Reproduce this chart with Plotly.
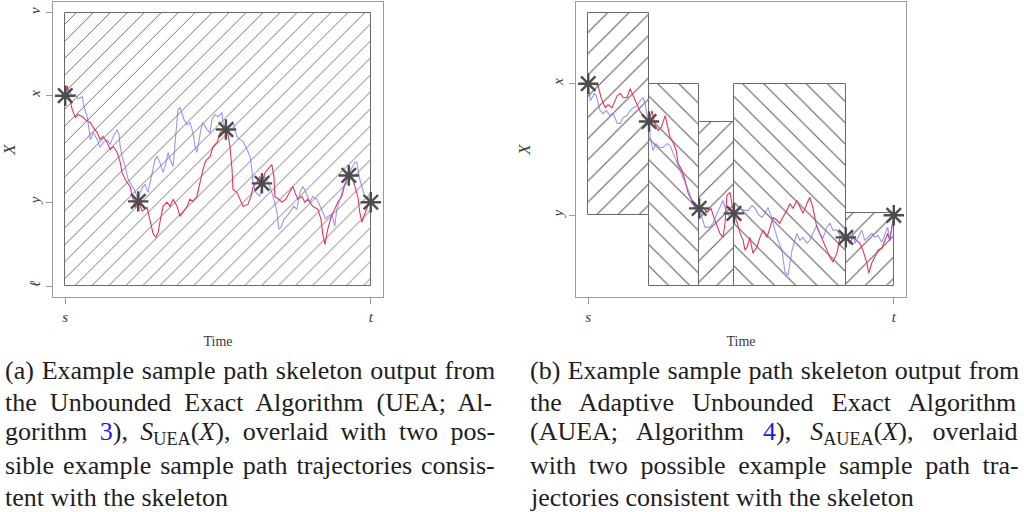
import plotly.graph_objects as go

# ---------------- Panel (a): UEA ----------------
uea_time_red = [0, 0.007, 0.013, 0.023, 0.033, 0.042, 0.056, 0.069, 0.082, 0.092, 0.105, 0.114, 0.124,
                0.137, 0.147, 0.157, 0.170, 0.180, 0.186, 0.196, 0.212, 0.222, 0.229, 0.239, 0.252, 0.268,
                0.275, 0.284, 0.288, 0.297, 0.304, 0.310, 0.320, 0.333, 0.343, 0.353, 0.366, 0.376, 0.386,
                0.399, 0.408, 0.418, 0.431, 0.441, 0.451, 0.458, 0.464, 0.474, 0.484, 0.497, 0.507, 0.513,
                0.526, 0.533, 0.539, 0.546, 0.549, 0.562, 0.572, 0.582, 0.598, 0.608, 0.614, 0.627, 0.637,
                0.644, 0.654, 0.663, 0.670, 0.676, 0.683, 0.686, 0.699, 0.709, 0.722, 0.735, 0.745, 0.752,
                0.761, 0.775, 0.784, 0.794, 0.810, 0.827, 0.837, 0.843, 0.850, 0.859, 0.873, 0.882, 0.892,
                0.905, 0.915, 0.928, 0.938, 0.948, 0.958, 0.964, 0.971, 0.980, 0.990, 1.0]
uea_red = [6.97, 7.34, 6.93, 6.46, 6.17, 6.28, 6.20, 6.06, 5.99, 5.80, 5.62, 5.36, 5.47,
           5.26, 5.00, 5.11, 4.89, 4.53, 4.16, 3.91, 3.65, 3.18, 2.88, 3.10, 2.74, 2.88,
           2.55, 2.19, 1.90, 1.79, 1.97, 2.34, 2.92, 3.07, 2.92, 3.18, 2.92, 2.55, 2.70,
           2.92, 3.18, 3.10, 3.28, 3.80, 4.27, 4.53, 4.64, 4.74, 5.11, 5.26, 5.62, 5.66,
           5.73, 5.55, 5.11, 4.27, 3.54, 3.43, 3.18, 2.92, 2.99, 3.28, 3.61, 3.80, 4.01,
           3.76, 4.16, 4.27, 4.38, 4.45, 4.01, 3.28, 3.18, 3.07, 3.18, 3.43, 3.65, 3.43,
           3.18, 3.28, 3.07, 3.18, 2.92, 2.81, 2.45, 1.90, 1.53, 2.08, 2.63, 2.81, 3.07,
           3.28, 3.72, 4.05, 3.98, 3.65, 3.25, 2.70, 2.34, 2.63, 2.92, 3.07]

uea_time_blue = [0, 0.013, 0.023, 0.033, 0.042, 0.056, 0.062, 0.072, 0.078, 0.082, 0.092, 0.105, 0.114,
                 0.124, 0.137, 0.147, 0.157, 0.170, 0.176, 0.180, 0.186, 0.196, 0.206, 0.219, 0.229, 0.239,
                 0.245, 0.255, 0.261, 0.271, 0.278, 0.284, 0.294, 0.301, 0.310, 0.320, 0.327, 0.337, 0.343,
                 0.353, 0.359, 0.366, 0.369, 0.376, 0.382, 0.389, 0.399, 0.408, 0.418, 0.425, 0.431, 0.438,
                 0.444, 0.451, 0.464, 0.474, 0.480, 0.490, 0.500, 0.513, 0.516, 0.526, 0.539, 0.549, 0.562,
                 0.572, 0.582, 0.595, 0.605, 0.611, 0.614, 0.624, 0.637, 0.644, 0.654, 0.663, 0.673, 0.683,
                 0.693, 0.699, 0.706, 0.716, 0.725, 0.735, 0.748, 0.758, 0.768, 0.778, 0.788, 0.801, 0.810,
                 0.824, 0.833, 0.843, 0.853, 0.859, 0.873, 0.882, 0.889, 0.899, 0.912, 0.928, 0.935, 0.948,
                 0.954, 0.964, 0.971, 0.980, 0.990, 1.0]
uea_blue = [6.97, 7.19, 6.93, 7.01, 6.86, 6.93, 6.53, 6.20, 5.73, 5.36, 5.62, 5.36, 5.07,
            5.26, 5.36, 5.18, 5.47, 5.73, 5.55, 5.11, 4.74, 4.38, 3.91, 3.65, 3.47, 3.10,
            3.43, 3.65, 3.72, 3.43, 3.80, 4.01, 4.64, 4.74, 4.53, 4.16, 4.38, 4.89, 4.64,
            4.38, 5.11, 6.09, 6.46, 6.53, 6.35, 6.09, 5.91, 5.99, 5.62, 5.11, 4.89, 5.36,
            5.73, 5.99, 5.73, 5.62, 6.09, 6.28, 6.20, 6.35, 5.99, 5.73, 5.84, 6.02, 5.47,
            5.36, 5.29, 5.00, 4.74, 4.27, 3.80, 3.43, 3.28, 3.76, 4.01, 3.80, 3.54, 3.18,
            2.70, 2.08, 2.15, 2.45, 2.55, 2.70, 2.92, 2.81, 3.43, 3.65, 3.43, 3.07, 3.28,
            3.18, 2.92, 2.70, 2.45, 2.55, 2.63, 2.19, 2.81, 3.18, 3.65, 4.05, 4.27, 4.53,
            4.53, 3.91, 3.65, 3.28, 3.28, 3.07]

uea_skel_time = [0, 0.239, 0.526, 0.644, 0.928, 1.0]
uea_skel_val = [6.97, 3.10, 5.73, 3.76, 4.05, 3.07]

uea_box_t0 = [0.0]
uea_box_t1 = [1.0]
uea_box_lo = [0.0]
uea_box_hi = [10.0]
uea_box_hatch = ["/"]

uea_ytick_vals = [0.0, 3.07, 6.97, 10.0]
uea_ytick_text = ["ℓ", "y", "x", "v"]

# ---------------- Panel (b): AUEA ----------------
auea_time_red = [0, 0.013, 0.023, 0.033, 0.042, 0.056, 0.065, 0.078, 0.088, 0.095, 0.105, 0.114, 0.127,
                 0.137, 0.147, 0.157, 0.170, 0.183, 0.199, 0.209, 0.219, 0.229, 0.239, 0.252, 0.258, 0.268,
                 0.278, 0.288, 0.294, 0.307, 0.317, 0.327, 0.340, 0.350, 0.363, 0.376, 0.389, 0.402, 0.412,
                 0.422, 0.431, 0.441, 0.448, 0.454, 0.464, 0.471, 0.477, 0.487, 0.497, 0.507, 0.513, 0.520,
                 0.529, 0.539, 0.552, 0.562, 0.572, 0.585, 0.595, 0.605, 0.618, 0.627, 0.637, 0.650, 0.660,
                 0.670, 0.683, 0.693, 0.703, 0.716, 0.725, 0.735, 0.748, 0.758, 0.768, 0.781, 0.791, 0.801,
                 0.814, 0.824, 0.833, 0.843, 0.856, 0.866, 0.879, 0.889, 0.899, 0.912, 0.918, 0.928, 0.938,
                 0.948, 0.961, 0.971, 0.980, 0.987, 1.0]
auea_red = [7.00, 7.00, 7.00, 6.91, 6.58, 6.27, 6.36, 6.27, 6.48, 6.64, 6.70, 6.58, 6.58,
            6.85, 6.64, 6.42, 6.15, 6.00, 5.85, 6.18, 5.73, 5.58, 5.67, 6.03, 5.79, 5.36,
            5.21, 4.97, 4.58, 4.36, 4.06, 3.67, 3.45, 3.24, 3.21, 3.24, 3.09, 3.21, 2.91,
            2.64, 2.45, 2.33, 2.79, 3.61, 3.70, 3.30, 3.06, 2.79, 2.45, 2.24, 1.94, 2.03,
            2.33, 1.85, 2.03, 2.33, 2.55, 2.33, 2.64, 2.94, 2.85, 2.76, 2.94, 3.15, 3.36,
            3.21, 3.45, 3.24, 3.06, 3.36, 3.55, 3.24, 2.64, 2.45, 2.24, 1.94, 1.73, 1.58,
            1.85, 2.33, 2.45, 2.33, 2.15, 2.33, 2.24, 2.15, 1.94, 1.55, 1.24, 1.55, 1.73,
            1.94, 2.00, 2.24, 2.45, 2.24, 3.00]

auea_time_blue = [0, 0.007, 0.013, 0.020, 0.026, 0.033, 0.039, 0.049, 0.059, 0.072, 0.082, 0.095, 0.105,
                  0.114, 0.127, 0.137, 0.147, 0.160, 0.170, 0.180, 0.186, 0.193, 0.199, 0.203, 0.212, 0.222,
                  0.235, 0.245, 0.258, 0.268, 0.278, 0.288, 0.301, 0.314, 0.324, 0.333, 0.343, 0.353, 0.363,
                  0.373, 0.382, 0.399, 0.408, 0.422, 0.431, 0.441, 0.454, 0.464, 0.477, 0.487, 0.497, 0.510,
                  0.523, 0.536, 0.546, 0.559, 0.569, 0.578, 0.588, 0.598, 0.611, 0.621, 0.634, 0.644, 0.654,
                  0.660, 0.667, 0.676, 0.683, 0.693, 0.703, 0.716, 0.725, 0.735, 0.748, 0.758, 0.768, 0.781,
                  0.791, 0.801, 0.814, 0.824, 0.833, 0.843, 0.853, 0.863, 0.873, 0.882, 0.895, 0.905, 0.915,
                  0.928, 0.938, 0.948, 0.961, 0.971, 0.980, 0.987, 1.0]
auea_blue = [7.00, 6.48, 6.58, 6.70, 6.64, 6.39, 6.18, 6.09, 6.18, 6.03, 6.09, 5.79, 5.79,
             5.97, 6.03, 6.18, 6.27, 6.33, 6.48, 6.58, 6.39, 6.03, 5.85, 5.36, 4.97, 5.18,
             5.06, 5.06, 5.18, 5.12, 4.88, 4.67, 4.36, 4.06, 3.85, 3.61, 3.36, 3.15, 3.21,
             2.91, 2.64, 2.64, 2.76, 3.06, 3.24, 3.45, 3.06, 2.94, 3.06, 3.09, 3.21, 3.15,
             3.15, 3.30, 3.21, 3.00, 2.94, 3.06, 3.24, 3.00, 2.55, 2.24, 1.94, 1.27, 1.18,
             1.58, 1.94, 2.24, 2.45, 2.24, 2.33, 2.15, 2.24, 2.45, 2.70, 2.45, 2.30, 2.64,
             2.76, 2.55, 2.55, 2.39, 2.24, 2.33, 2.45, 2.55, 2.15, 2.33, 2.55, 2.24, 2.33,
             2.45, 2.33, 2.39, 2.18, 2.45, 2.64, 2.24, 3.00]

auea_skel_time = [0, 0.199, 0.363, 0.477, 0.843, 1.0]
auea_skel_val = [7.00, 5.85, 3.21, 3.06, 2.33, 3.00]

auea_box_t0 = [0.0, 0.199, 0.363, 0.477, 0.843]
auea_box_t1 = [0.199, 0.363, 0.477, 0.843, 1.0]
auea_box_lo = [3.00, 0.85, 0.85, 0.85, 0.85]
auea_box_hi = [9.15, 7.00, 5.85, 7.00, 3.06]
auea_box_hatch = ["/", "\\", "/", "\\", "/"]

auea_ytick_vals = [3.00, 7.00]
auea_ytick_text = ["y", "x"]

time_tick_vals = [0.0, 1.0]
time_tick_text = ["s", "t"]

caption_a = [
    "(a) Example sample path skeleton output from",
    "the Unbounded Exact Algorithm (UEA; Al-",
    "gorithm <span style='color:#1a1aff'>3</span>), <i>S</i><sub>UEA</sub>(<i>X</i>), overlaid with two pos-",
    "sible example sample path trajectories consis-",
    "tent with the skeleton",
]
caption_b = [
    "(b) Example sample path skeleton output from",
    "the Adaptive Unbounded Exact Algorithm",
    "(AUEA; Algorithm <span style='color:#1a1aff'>4</span>), <i>S</i><sub>AUEA</sub>(<i>X</i>), overlaid",
    "with two possible example sample path tra-",
    "jectories consistent with the skeleton",
]
# extra inter-word space (px) that justifies each caption line
caption_a_wordspace = [1.3, 6.6, 5.9, 2.5, 0.0]
caption_b_wordspace = [0.9, 11.8, 12.5, 6.1, 0.0]

# ---------------- styling ----------------
SERIF = "Liberation Serif"
RED = "rgb(232,52,88)"
BLUE = "rgba(110,110,255,0.72)"
STAR = "#4d4d4d"
FRAME = "#9a9a9a"
HATCH = "#5a5a5a"
AXTXT = "#3a3a3a"

fig = go.Figure()


def add_panel(xa, ya, t0, t1, lo, hi, hatch, hsize, tr, r, tb, b, st, sv):
    fig.add_trace(go.Bar(
        x=[(a + c) / 2 for a, c in zip(t0, t1)],
        width=[c - a for a, c in zip(t0, t1)],
        base=lo,
        y=[h - l for h, l in zip(hi, lo)],
        xaxis=xa, yaxis=ya,
        marker=dict(color="white",
                    line=dict(color="#6a6a6a", width=1),
                    pattern=dict(shape=hatch, fgcolor=HATCH, bgcolor="white",
                                 size=hsize, solidity=0.07, fillmode="replace")),
        showlegend=False, hoverinfo="skip"))
    fig.add_trace(go.Scatter(x=tr, y=r, xaxis=xa, yaxis=ya, mode="lines",
                             line=dict(color=RED, width=1.1), showlegend=False))
    fig.add_trace(go.Scatter(x=tb, y=b, xaxis=xa, yaxis=ya, mode="lines",
                             line=dict(color=BLUE, width=1.1), showlegend=False))
    fig.add_trace(go.Scatter(x=st, y=sv, xaxis=xa, yaxis=ya, mode="markers",
                             marker=dict(symbol="asterisk-open", size=17, color=STAR,
                                         line=dict(color=STAR, width=2.4)),
                             showlegend=False))


add_panel("x", "y", uea_box_t0, uea_box_t1, uea_box_lo, uea_box_hi, uea_box_hatch, 12,
          uea_time_red, uea_red, uea_time_blue, uea_blue, uea_skel_time, uea_skel_val)
add_panel("x2", "y2", auea_box_t0, auea_box_t1, auea_box_lo, auea_box_hi, auea_box_hatch, 15,
          auea_time_red, auea_red, auea_time_blue, auea_blue, auea_skel_time, auea_skel_val)

ydom = [1 - 297 / 512, 1 - 2 / 512]

common_x = dict(range=[-0.04, 1.04], showline=True, mirror=True, linecolor=FRAME, linewidth=1.2,
                ticks="outside", ticklen=6, tickcolor=FRAME, tickwidth=1, showgrid=False, zeroline=False,
                automargin=False,
                tickvals=time_tick_vals, ticktext=["<i>%s</i>" % s for s in time_tick_text],
                tickfont=dict(family=SERIF, size=15, color=AXTXT),
                title=dict(text="Time", font=dict(family=SERIF, size=14, color=AXTXT), standoff=12))
common_y = dict(showline=True, mirror=True, linecolor=FRAME, linewidth=1.2,
                ticks="outside", ticklen=6, tickcolor=FRAME, tickwidth=1, showgrid=False, zeroline=False,
                automargin=False,
                tickangle=-90, tickfont=dict(family=SERIF, size=15, color=AXTXT),
                title=dict(text="<i>X</i>", font=dict(family=SERIF, size=17, color=AXTXT), standoff=14))

fig.update_layout(
    width=1024, height=512, margin=dict(l=0, r=0, t=0, b=0, autoexpand=False), autosize=False,
    paper_bgcolor="white", plot_bgcolor="white", barmode="overlay", bargap=0,
    xaxis=dict(domain=[53 / 1024, 383 / 1024], anchor="y", **common_x),
    yaxis=dict(domain=ydom, anchor="x", range=[-0.4, 10.4],
               tickvals=uea_ytick_vals, ticktext=["<i>%s</i>" % s for s in uea_ytick_text], **common_y),
    xaxis2=dict(domain=[576 / 1024, 906 / 1024], anchor="y2", **common_x),
    yaxis2=dict(domain=ydom, anchor="x2", range=[0.518, 9.482],
                tickvals=auea_ytick_vals, ticktext=["<i>%s</i>" % s for s in auea_ytick_text], **common_y),
)

line_y = [370, 402, 433, 465, 497]
for caps, spaces, x0 in ((caption_a, caption_a_wordspace, 3), (caption_b, caption_b_wordspace, 528)):
    for i, txt in enumerate(caps):
        fig.add_annotation(xref="paper", yref="paper", x=x0 / 1024, y=1 - line_y[i] / 512,
                           xanchor="left", yanchor="middle", showarrow=False,
                           text="<span style='word-spacing:%.1fpx'>%s</span>" % (spaces[i], txt),
                           font=dict(family=SERIF, size=26, color="#1e1e1e"))

fig.write_html("out.html", config={"displayModeBar": False},
               post_script="document.body.style.margin='0px';")
